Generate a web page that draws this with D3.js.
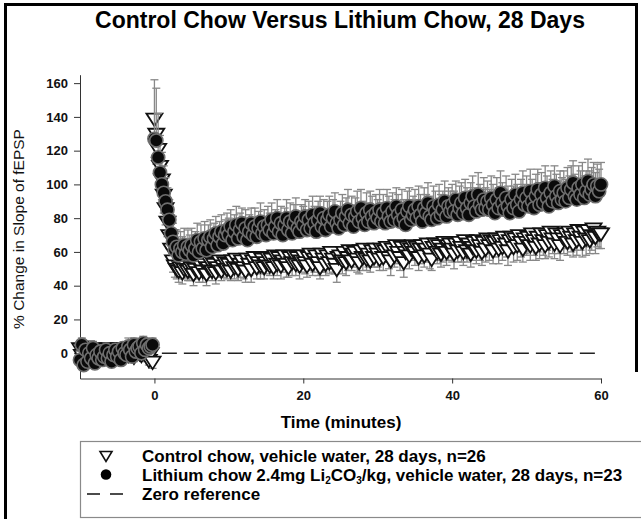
<!DOCTYPE html>
<html><head><meta charset="utf-8">
<script src="https://cdn.jsdelivr.net/npm/d3@7"></script>
<style>body{margin:0;background:#fff}svg{display:block}text{font-family:Arial,"Liberation Sans",sans-serif}</style>
</head><body><svg id="c" width="641" height="519"></svg>
<script>
const titleText = "Control Chow Versus Lithium Chow, 28 Days";
const xLabel = "Time (minutes)";
const yLabel = "% Change in Slope of fEPSP";
const xTicks = [0, 20, 40, 60];
const yTicks = [0, 20, 40, 60, 80, 100, 120, 140, 160];
const step = 0.25; // sampling interval (min)
const baseStart = -10;
const zeroRef = [1, 60];

const ctrlBase = [3,-1,2,4,0,-2,1,3,-1,2,0,-3,1,2,-1,3,0,-2,2,1,-1,3,0,-2,1,2,-1,0,3,-2,1,2,0,-1,3,1,-2,-4,0,-5];
const lithBase = [-4,5,-7,2,-5,0,-3,3,-6,-1,-3,1,-4,-2,2,-3,0,-5,-1,2,-2,1,-4,3,0,-1,4,2,-2,5,1,3,4,0,6,2,5,3,4,5];
const ctrlErrBase = [4,3,3,4,3,3,2,3,4,3,3,3,2,3,3,4,3,3,3,2,3,3,4,3,3,2,3,3,4,3,3,3,2,3,3,4,3,3,4,4];
const lithErrBase = [5,4,5,4,4,3,4,4,5,4,4,3,4,4,3,4,4,5,4,3,4,4,4,3,4,4,5,3,4,4,3,4,4,3,4,4,3,4,4,4];

const ctrlPost = [
139,130,121,111,103,94,86,78,70,62,55,52,50,49,51,48,50,52,49,50,
51,47,50,54,48,52,49,53,47,51,54,49,53,48,51,55,49,52,54,50,
53,49,55,51,56,50,53,55,51,49,56,53,50,55,57,51,54,52,56,51,
54,57,52,56,51,58,53,57,52,55,58,53,51,57,54,58,53,57,52,55,
58,54,52,57,59,53,56,58,54,51,59,56,53,58,54,60,56,53,50,57,
58,55,60,54,57,61,55,59,60,56,54,61,57,62,56,59,55,61,57,62,
59,56,62,57,61,63,57,55,62,58,64,60,57,63,54,60,63,58,62,64,
60,63,57,62,64,58,62,65,59,56,63,65,60,64,59,62,66,60,64,65,
62,59,65,61,66,63,60,67,61,65,59,63,66,61,67,64,60,66,62,68,
64,67,61,66,68,62,67,63,69,65,61,67,69,63,68,64,70,66,62,68,
66,69,64,71,67,63,69,65,71,67,64,70,66,72,68,65,71,68,64,70,
68,71,66,72,69,65,71,67,73,69,66,72,68,73,67,70,74,69,72,71,
71];
const lithPost = [
127,126,116,107,100,95,90,85,79,71,66,61,63,58,62,60,64,59,63,61,
64,58,62,67,60,66,62,68,61,67,69,63,68,71,64,69,72,65,70,73,
70,75,67,72,76,68,73,77,69,74,67,72,77,70,75,69,74,78,71,75,
70,76,73,79,71,75,80,72,77,70,76,80,73,78,71,77,81,74,72,78,
76,81,73,79,74,82,77,72,79,83,75,80,73,79,82,75,80,84,77,74,
79,83,76,81,85,77,82,75,81,84,78,86,80,76,83,78,85,81,77,83,
80,85,78,83,77,86,81,78,84,79,87,82,78,85,80,76,84,87,79,82,
85,80,87,82,78,86,83,89,81,79,87,84,80,88,82,85,90,81,87,84,
88,84,91,82,86,89,83,92,86,82,89,93,87,84,94,88,85,91,86,90,
85,92,88,83,91,86,95,89,85,92,87,83,91,86,94,88,84,91,95,88,
92,87,96,90,86,93,97,88,94,89,98,92,87,95,90,99,93,89,96,91,
95,90,98,92,97,101,93,91,98,94,100,92,96,102,94,97,100,93,99,96,
100];
const ctrlErrPost = [
23,18,15,13,12,11,10,9,8,8,7,7,6,7,6,7,6,7,6,7,
6,7,6,7,6,7,7,6,7,6,7,6,7,7,6,7,6,7,7,6,
7,6,7,7,6,7,8,6,7,7,6,7,8,7,6,7,7,8,6,7,
7,8,6,7,7,8,7,6,8,7,7,8,6,7,8,7,7,6,8,7,
8,7,7,8,6,7,8,7,8,7,6,8,7,8,7,7,8,6,8,7,
7,8,7,8,8,7,6,8,7,8,7,8,8,7,7,8,7,8,6,8,
8,7,8,8,7,8,7,9,8,7,8,7,8,8,9,7,8,8,7,8,
8,7,8,9,8,7,8,8,9,7,8,8,7,9,8,8,7,8,9,8,
8,9,8,7,8,9,8,8,7,9,8,8,9,8,7,9,8,9,8,8,
9,8,8,9,8,9,7,8,9,8,9,8,8,9,8,9,8,9,8,9,
8,9,9,8,9,8,9,9,8,9,8,9,9,8,9,9,8,9,9,8,
9,9,8,9,9,8,10,9,9,8,9,9,10,9,8,9,9,10,9,9,
9];
const lithErrPost = [
35,31,26,22,19,16,14,13,12,11,11,10,10,9,10,9,10,9,10,9,
10,9,10,10,9,10,9,10,10,9,10,10,9,10,10,9,10,10,9,10,
10,10,9,10,11,10,10,9,10,11,10,10,9,10,11,10,10,11,10,10,
10,11,10,10,11,10,11,10,10,11,10,11,10,11,10,11,11,10,11,10,
11,10,11,11,10,11,10,11,11,10,11,11,10,11,11,10,11,11,10,11,
11,11,10,11,12,11,11,10,11,12,11,11,10,11,12,11,11,12,11,11,
11,12,11,11,12,11,12,11,11,12,11,12,11,12,11,11,12,11,12,11,
12,11,12,12,11,12,11,12,12,11,12,12,11,12,12,11,12,12,11,12,
12,12,11,12,13,12,12,11,12,13,12,12,11,12,13,12,12,13,12,12,
12,13,12,12,13,12,13,12,12,13,12,13,12,13,12,12,13,12,13,12,
13,12,13,13,12,13,12,13,13,12,13,13,12,13,13,12,13,13,12,13,
13,13,12,13,14,13,13,12,13,14,13,13,12,13,14,13,13,14,13,13,
13];

const legendLabels = [
  "Control chow, vehicle water, 28 days, n=26",
  ["Lithium chow 2.4mg Li", "2", "CO", "3", "/kg, vehicle water, 28 days, n=23"],
  "Zero reference"
];

const svg = d3.select("#c");
const x = d3.scaleLinear().domain([-10, 60]).range([80, 601]);
const y = d3.scaleLinear().domain([-15, 165]).range([378.5, 74.7]);

// outer frame
svg.append("path").attr("d", "M5.5,519 V4.5 H636.5 V372")
  .attr("fill", "none").attr("stroke", "#000").attr("stroke-width", 3);

svg.append("text").attr("x", 340).attr("y", 28).attr("text-anchor", "middle")
  .attr("font-size", 23).attr("font-weight", "bold").attr("fill", "#000").text(titleText);

const times = d3.range(ctrlBase.length).map(i => baseStart + i * step)
  .concat(d3.range(ctrlPost.length).map(i => i * step));
const cV = ctrlBase.concat(ctrlPost), cE = ctrlErrBase.concat(ctrlErrPost);
const lV = lithBase.concat(lithPost), lE = lithErrBase.concat(lithErrPost);
const ctrl = times.map((t, i) => ({t, v: cV[i], e: cE[i]}));
const lith = times.map((t, i) => ({t, v: lV[i], e: lE[i]}));

// axes
const yAxis = svg.append("g").attr("transform", "translate(80,0)")
  .call(d3.axisLeft(y).tickValues(yTicks).tickSize(6).tickSizeOuter(0).tickPadding(6));
const xAxis = svg.append("g").attr("transform", "translate(0,378.5)")
  .call(d3.axisBottom(x).tickValues(xTicks).tickSize(5).tickSizeOuter(0).tickPadding(7));
[yAxis, xAxis].forEach(g => {
  g.select(".domain").attr("stroke", "#333");
  g.selectAll(".tick line").attr("stroke", "#333");
  g.selectAll(".tick text").attr("font-size", 13).attr("font-weight", "bold")
    .attr("fill", "#111").style("font-family", "Arial, 'Liberation Sans', sans-serif");
});

svg.append("text").attr("x", 341).attr("y", 428).attr("text-anchor", "middle")
  .attr("font-size", 17).attr("font-weight", "bold").text(xLabel);
svg.append("text").attr("transform", "translate(24,229) rotate(-90)").attr("text-anchor", "middle")
  .attr("font-size", 15.5).attr("fill", "#111").text(yLabel);

// zero reference
svg.append("line").attr("x1", x(zeroRef[0])).attr("x2", x(zeroRef[1]))
  .attr("y1", y(0)).attr("y2", y(0)).attr("stroke", "#222").attr("stroke-width", 1.4)
  .attr("stroke-dasharray", "15,7");

const triPath = "M-8,-5 L8,-5 L0,7.5 Z";
function errBars(data, dir) {
  const g = svg.append("g").attr("stroke", "#888").attr("stroke-width", 1.3);
  data.forEach(d => {
    const y0 = y(d.v), y1 = y(d.v + dir * d.e);
    g.append("line").attr("x1", x(d.t)).attr("x2", x(d.t)).attr("y1", y0).attr("y2", y1);
    g.append("line").attr("x1", x(d.t) - 4).attr("x2", x(d.t) + 4).attr("y1", y1).attr("y2", y1);
  });
}
// control
errBars(ctrl, -1);
svg.append("g").selectAll("path").data(ctrl).join("path")
  .attr("d", triPath).attr("transform", d => `translate(${x(d.t)},${y(d.v)})`)
  .attr("fill", "#fff").attr("stroke", "#111").attr("stroke-width", 1.8);
// lithium
errBars(lith, 1);
svg.append("g").selectAll("circle").data(lith).join("circle")
  .attr("cx", d => x(d.t)).attr("cy", d => y(d.v)).attr("r", 6.6)
  .attr("fill", "#0a0a0a").attr("stroke", "#6e6e6e").attr("stroke-width", 1.6);

// legend
const lg = svg.append("g");
lg.append("rect").attr("x", 80.5).attr("y", 441.5).attr("width", 600).attr("height", 76)
  .attr("fill", "#fff").attr("stroke", "#8a8a8a").attr("stroke-width", 1.2);
const rows = [456, 474.5, 494];
lg.append("path").attr("d", "M-6,-4.5 L6,-4.5 L0,5.5 Z").attr("transform", `translate(106,${rows[0]})`)
  .attr("fill", "#fff").attr("stroke", "#111").attr("stroke-width", 1.6);
lg.append("circle").attr("cx", 106).attr("cy", rows[1]).attr("r", 5.3).attr("fill", "#000");
lg.append("line").attr("x1", 87).attr("x2", 123).attr("y1", rows[2]).attr("y2", rows[2])
  .attr("stroke", "#111").attr("stroke-width", 1.4).attr("stroke-dasharray", "13,10");
const tx = 142, fs = 17;
lg.append("text").attr("x", tx).attr("y", rows[0] + 6).attr("font-size", fs).attr("font-weight", "bold")
  .text(legendLabels[0]);
const t2 = lg.append("text").attr("x", tx).attr("y", rows[1] + 6).attr("font-size", fs).attr("font-weight", "bold");
const parts = legendLabels[1];
t2.append("tspan").text(parts[0]);
t2.append("tspan").attr("font-size", 10).attr("dy", 3).text(parts[1]);
t2.append("tspan").attr("dy", -3).text(parts[2]);
t2.append("tspan").attr("font-size", 10).attr("dy", 3).text(parts[3]);
t2.append("tspan").attr("dy", -3).text(parts[4]);
lg.append("text").attr("x", tx).attr("y", rows[2] + 6).attr("font-size", fs).attr("font-weight", "bold")
  .text(legendLabels[2]);
</script></body></html>
